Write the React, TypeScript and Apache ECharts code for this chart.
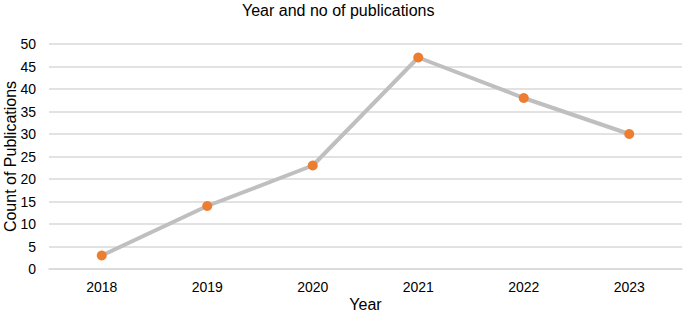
import React, { useEffect, useRef } from "react";
import * as echarts from "echarts";

const years = ["2018", "2019", "2020", "2021", "2022", "2023"];
const publications = [3, 14, 23, 47, 38, 30];
const titleText = "Year and no of publications";
const xName = "Year";
const yName = "Count of Publications";

export default function App() {
  const ref = useRef<HTMLDivElement>(null);
  useEffect(() => {
    if (!ref.current) return;
    const chart = echarts.init(ref.current, undefined, { renderer: "svg" });
    const font = "Liberation Sans, Arial, sans-serif";
    chart.setOption({
      animation: false,
      backgroundColor: "#fff",
      title: {
        text: titleText,
        left: 237,
        top: -3,
        textStyle: { fontFamily: font, fontSize: 16, fontWeight: "normal", color: "#000" },
      },
      grid: { left: 49, right: 3, top: 44, bottom: 42, outerBoundsMode: "none", containLabel: false },
      xAxis: {
        type: "category",
        data: years,
        boundaryGap: true,
        name: xName,
        nameLocation: "middle",
        nameGap: 27,
        nameMoveOverlap: false,
        nameTextStyle: { fontFamily: font, fontSize: 16, color: "#000" },
        axisLine: { show: true, lineStyle: { color: "#d9d9d9", width: 1.5 } },
        axisTick: { show: false },
        axisLabel: { fontFamily: font, fontSize: 14, color: "#000", margin: 11 },
      },
      yAxis: {
        type: "value",
        min: 0,
        max: 50,
        interval: 5,
        name: yName,
        nameLocation: "middle",
        nameGap: 31,
        nameMoveOverlap: false,
        nameRotate: 90,
        nameTextStyle: { fontFamily: font, fontSize: 16, color: "#000" },
        axisLine: { show: false },
        axisTick: { show: false },
        axisLabel: { fontFamily: font, fontSize: 14, color: "#000", margin: 13 },
        splitLine: { lineStyle: { color: "#d9d9d9", width: 1.5 } },
      },
      series: [
        {
          type: "line",
          data: publications,
          symbol: "circle",
          symbolSize: 10,
          lineStyle: { color: "#bfbfbf", width: 4 },
          itemStyle: { color: "#ed7d31" },
        },
      ],
    });
    return () => chart.dispose();
  }, []);
  return (
    <div
      ref={ref}
      style={{ position: "fixed", left: 0, top: 0, width: 685, height: 311 }}
    />
  );
}
